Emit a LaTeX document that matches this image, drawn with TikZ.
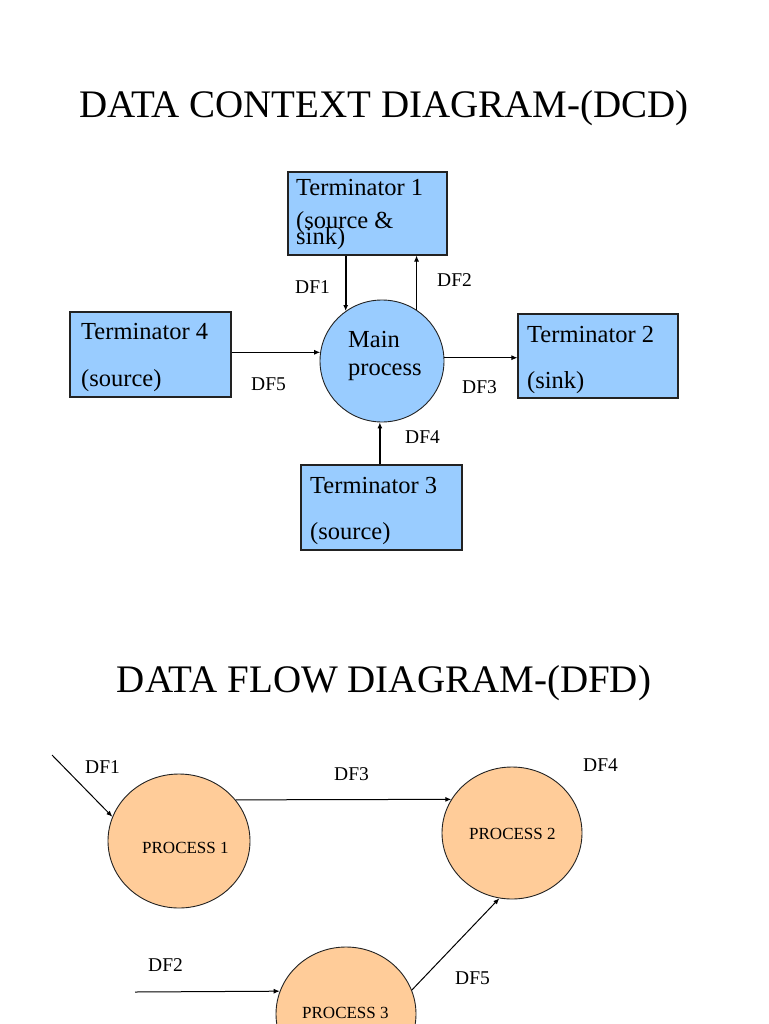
\documentclass[tikz,border=0pt]{standalone}
\usepackage{fontspec}
\setmainfont{Liberation Serif}
\usetikzlibrary{arrows.meta,shapes.geometric}
\definecolor{boxblue}{HTML}{99CCFF}
\definecolor{procorange}{HTML}{FFCC99}
\definecolor{edge}{HTML}{222222}
\tikzset{
  termbox/.style={draw=edge,fill=boxblue,line width=1.1pt,rectangle,inner sep=0pt},
  bubble/.style={draw=edge,line width=0.9pt,ellipse,inner sep=0pt},
  txt/.style={anchor=base west,inner sep=0pt,font=\fontsize{24.5}{26}\selectfont},
  flowlbl/.style={anchor=base west,inner sep=0pt,font=\fontsize{19.5}{22}\selectfont},
  proclbl/.style={anchor=base west,inner sep=0pt,font=\fontsize{17}{20}\selectfont},
  ttl/.style={anchor=base,inner sep=0pt,font=\fontsize{39}{42}\selectfont},
  arr/.style={-{Latex[length=6pt,width=5pt]},line width=1.7pt,draw=black},
  arrthin/.style={-{Latex[length=6pt,width=5pt]},line width=1pt,draw=black}
}
\begin{document}
\begin{tikzpicture}[x=1pt,y=-1pt]
\useasboundingbox[fill=white] (0,0) rectangle (768,1024);

% ---------- titles ----------
\node[ttl] (title1) at (384,118) {DATA CONTEXT DIAGRAM-(DCD)};
\node[ttl] (title2) at (384,692) {DATA FLOW DIAGRAM-(DFD)};

% ---------- DCD ----------
\node[termbox,minimum width=159pt,minimum height=83pt] (t1) at (367.5,213.5) {};
\node[termbox,minimum width=161pt,minimum height=85pt] (t4) at (150.5,354.5) {};
\node[termbox,minimum width=160pt,minimum height=84pt] (t2) at (598,356) {};
\node[termbox,minimum width=161pt,minimum height=85pt] (t3) at (381.5,507.5) {};
\node[bubble,fill=boxblue,minimum width=124pt,minimum height=122pt] (mp) at (382,361) {};

\node[txt] (t1a) at (296,196) {Terminator 1};
\node[txt] (t1b) at (296,229) {(source \&};
\node[txt] (t1c) at (296,244) {sink)};
\node[txt] (t4a) at (81,339) {Terminator 4};
\node[txt] (t4b) at (81,386) {(source)};
\node[txt] (t2a) at (527,342) {Terminator 2};
\node[txt] (t2b) at (527,388) {(sink)};
\node[txt] (t3a) at (310,493) {Terminator 3};
\node[txt] (t3b) at (310,539) {(source)};
\node[txt] (mpa) at (348,347) {Main};
\node[txt] (mpb) at (348,375) {process};

\draw[arr] (mp.126 |- t1.south) -- (mp.126);
\draw[arrthin] (mp.56) -- (mp.56 |- t1.south);
\draw[arrthin] (t4.east |- mp.172) -- (mp.172);
\draw[arrthin] (mp.3) -- (mp.3 -| t2.west);
\draw[arr] (mp.268 |- t3.north) -- (mp.268);

\node[flowlbl] (l1) at (295,293) {DF1};
\node[flowlbl] (l2) at (437,286) {DF2};
\node[flowlbl] (l5) at (251,390) {DF5};
\node[flowlbl] (l3) at (462,393) {DF3};
\node[flowlbl] (l4) at (405,443) {DF4};

% ---------- DFD ----------
\node[bubble,fill=procorange,minimum width=142pt,minimum height=134pt] (p1) at (179,841) {};
\node[bubble,fill=procorange,minimum width=140pt,minimum height=132pt] (p2) at (512,833) {};
\node[bubble,fill=procorange,minimum width=140pt,minimum height=134pt] (p3) at (346,1014) {};

\node[proclbl] (p1t) at (142,853) {PROCESS 1};
\node[proclbl] (p2t) at (469,839) {PROCESS 2};
\node[proclbl] (p3t) at (302,1018) {PROCESS 3};

\coordinate (in1) at (52,755);
\coordinate (in2) at (135,992);
\draw[arrthin] (in1) -- (p1.160);
\draw[arrthin] (p1.36.1) -- (p2.151.4);
\draw[arrthin] (in2) -- (p3.161);
\draw[arrthin] (p3.20) -- (p2.259);

\node[flowlbl] (b1) at (85,773) {DF1};
\node[flowlbl] (b3) at (334,780) {DF3};
\node[flowlbl] (b4) at (583,771) {DF4};
\node[flowlbl] (b2) at (148,971) {DF2};
\node[flowlbl] (b5) at (455,984) {DF5};
\end{tikzpicture}
\end{document}
